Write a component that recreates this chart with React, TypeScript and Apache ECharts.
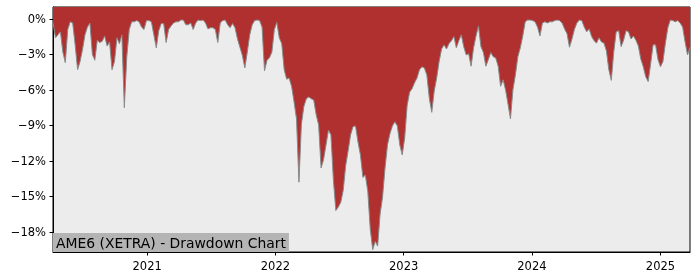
import React, { useEffect, useRef } from "react";
import * as echarts from "echarts";

const TITLE = "AME6 (XETRA) - Drawdown Chart";
const START_DATE = "2020-04-08"; // first weekly observation
const yearTickLabels = ["2021", "2022", "2023", "2024", "2025"];
const yTickValues = [0, -3, -6, -9, -12, -15, -18];

// weekly drawdown in percent
const drawdownPct = [
  -0.3, -1.6, -1.35, -1.1, -2.8, -3.7, -0.9, -0.25, -0.35, -2.2,
  -4.3, -3.6, -2.6, -1.35, -0.7, -0.35, -3.0, -3.5, -1.8, -2.0,
  -1.9, -1.45, -2.3, -1.95, -4.3, -3.6, -1.6, -2.1, -1.35, -7.5,
  -3.2, -0.9, -0.25, -0.25, -0.15, -0.25, -0.7, -0.9, -0.15, -0.15,
  -0.25, -1.35, -2.45, -1.0, -0.4, -0.4, -2.0, -0.9, -0.6, -0.35,
  -0.25, -0.25, -0.1, -0.1, -0.5, -0.5, -0.35, -0.9, -0.35, -0.1,
  -0.15, -0.1, -0.35, -0.85, -0.75, -0.75, -0.9, -2.0, -0.35, -0.15,
  -0.1, -0.5, -0.75, -0.4, -0.75, -1.7, -2.4, -3.1, -4.15, -2.8,
  -1.35, -0.5, -0.15, -0.1, -0.15, -0.7, -4.4, -3.5, -3.3, -2.8,
  -0.9, -0.3, -1.6, -2.1, -4.3, -5.1, -5.0, -5.7, -7.0, -8.45,
  -13.8, -8.9, -7.4, -6.75, -6.6, -6.75, -6.85, -8.1, -8.95, -12.6,
  -11.9, -10.65, -9.4, -9.8, -13.6, -16.2, -15.9, -15.5, -14.5, -12.4,
  -11.15, -9.8, -9.1, -9.05, -10.4, -11.5, -13.4, -13.2, -14.6, -17.8,
  -19.5, -18.8, -19.2, -16.5, -15.05, -12.6, -10.65, -9.7, -9.05, -8.7,
  -9.05, -10.65, -11.5, -10.05, -7.3, -6.2, -5.9, -5.4, -5.0, -4.3,
  -4.05, -4.15, -4.75, -6.7, -7.9, -6.1, -5.0, -3.6, -2.55, -2.2,
  -2.55, -2.1, -1.85, -1.5, -2.45, -1.85, -1.35, -2.35, -3.05, -2.95,
  -4.0, -2.45, -1.45, -0.6, -2.35, -2.85, -4.0, -3.45, -2.85, -3.2,
  -3.3, -4.0, -5.7, -5.15, -6.0, -7.2, -8.45, -6.0, -4.75, -3.2,
  -2.45, -1.45, -0.25, -0.1, -0.1, -0.15, -0.25, -0.7, -1.45, -0.35,
  -0.25, -0.35, -0.25, -0.25, -0.15, -0.1, -0.15, -0.35, -0.85, -1.25,
  -2.4, -1.7, -0.9, -0.35, -0.1, -0.15, -0.7, -1.1, -0.85, -1.5,
  -1.85, -2.05, -1.6, -1.95, -2.05, -2.7, -4.3, -5.2, -2.8, -1.1,
  -1.0, -2.35, -1.8, -1.0, -1.1, -1.7, -1.45, -1.8, -2.3, -3.4,
  -4.05, -4.9, -5.3, -3.8, -2.2, -2.2, -3.45, -4.05, -3.6, -2.05,
  -0.75, -0.1, -0.15, -0.25, -0.15, -0.35, -0.7, -1.95, -3.05, -2.4,
];

const DAY = 86400000;

export default function App() {
  const ref = useRef<HTMLDivElement>(null);

  useEffect(() => {
    if (!ref.current) return;
    const chart = echarts.init(ref.current, undefined, { renderer: "svg" });
    const [sy, sm, sd] = START_DATE.split("-").map(Number);
    const start = Date.UTC(sy, sm - 1, sd);
    const dates = drawdownPct.map((_, i) => start + i * 7 * DAY);
    const yearTicks = yearTickLabels.map((y) => Date.UTC(Number(y), 0, 1));
    const font = "DejaVu Sans";

    chart.setOption({
      animation: false,
      grid: {
        left: 53,
        top: 7,
        right: 10,
        bottom: 28,
        show: true,
        backgroundColor: "#ececec",
        borderColor: "#000",
        borderWidth: 1,
      },
      xAxis: {
        type: "value",
        min: dates[0],
        max: dates[dates.length - 1],
        axisLine: { show: true, onZero: false, lineStyle: { color: "#000", width: 1 } },
        axisTick: {
          show: true,
          customValues: yearTicks,
          length: 3.5,
          inside: false,
          lineStyle: { color: "#000", width: 1 },
        },
        axisLabel: {
          customValues: yearTicks,
          formatter: (v: number) => String(new Date(v).getUTCFullYear()),
          color: "#000",
          fontSize: 11.5,
          fontFamily: font,
          margin: 8,
        },
        splitLine: { show: false },
      },
      yAxis: {
        type: "value",
        min: -19.7,
        max: 1.0,
        axisLine: { show: true, onZero: false, lineStyle: { color: "#000", width: 1 } },
        axisTick: {
          show: true,
          customValues: yTickValues,
          length: 3.5,
          inside: false,
          lineStyle: { color: "#000", width: 1 },
        },
        axisLabel: {
          customValues: yTickValues,
          formatter: (v: number) => (v < 0 ? "\u2212" : "") + Math.abs(v) + "%",
          color: "#000",
          fontSize: 11.5,
          fontFamily: font,
          margin: 7,
        },
        splitLine: { show: false },
      },
      series: [
        {
          type: "line",
          data: dates.map((d, i) => [d, drawdownPct[i]]),
          symbol: "none",
          showSymbol: false,
          lineStyle: { color: "#8a8a8a", width: 1 },
          areaStyle: { color: "#b03030", origin: "end", opacity: 1 },
          z: 2,
        },
      ],
      graphic: [
        {
          type: "text",
          left: 53,
          bottom: 28,
          z: 100,
          style: {
            text: TITLE,
            font: `13.9px "${font}"`,
            fill: "#000",
            backgroundColor: "#b4b4b4",
            padding: [3, 3, 2, 3],
          },
        },
      ],
    });
    return () => chart.dispose();
  }, []);

  return (
    <div
      ref={ref}
      style={{ position: "fixed", left: 0, top: 0, width: 700, height: 280 }}
    />
  );
}
